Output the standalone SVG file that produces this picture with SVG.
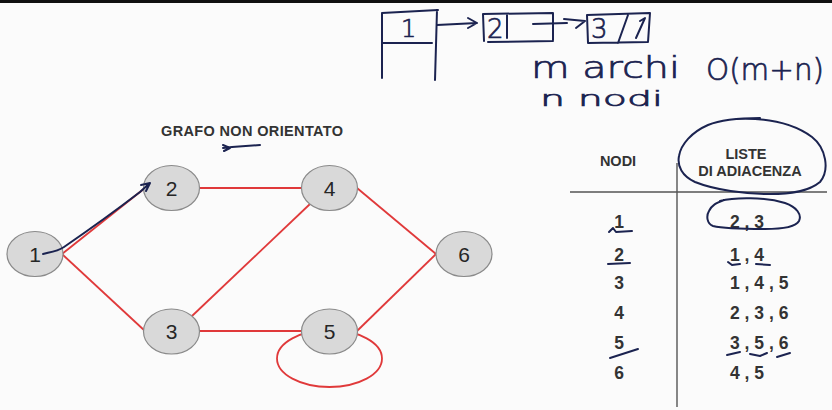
<svg xmlns="http://www.w3.org/2000/svg" width="832" height="410" viewBox="0 0 832 410">
<style>
.bg{fill:#fbfbfb}
.node ellipse{fill:#d9d9d9;stroke:#8a8a8a;stroke-width:1.2}
.node text{font-family:"Liberation Sans",Arial,sans-serif;font-size:21px;fill:#262626;text-anchor:middle}
.edge{stroke:#e0393a;stroke-width:1.8;fill:none}
.hdr{font-family:"Liberation Sans",Arial,sans-serif;font-weight:bold;font-size:14.5px;fill:#333}
.cell{font-family:"Liberation Sans",Arial,sans-serif;font-weight:bold;font-size:17.5px;fill:#333}
.tline{stroke:#555;stroke-width:1.4;fill:none}
.ink{stroke:#1b2350;stroke-width:2;fill:none;stroke-linecap:round;stroke-linejoin:round}
.hw{font-family:"DejaVu Sans",sans-serif;font-weight:200;fill:#1b2350;stroke:#1b2350;stroke-width:0.7}
</style>
<rect class="bg" x="0" y="0" width="832" height="410"/>
<rect x="0" y="0" width="832" height="3" fill="#111"/>

<text class="hdr" x="161" y="136" font-size="15" textLength="182">GRAFO NON ORIENTATO</text>

<g id="connectors">
<line class="edge" x1="62" y1="254" x2="145" y2="188"/>
<line class="edge" x1="62" y1="254" x2="145" y2="331"/>
<line class="edge" x1="199" y1="188" x2="302" y2="188"/>
<line class="edge" x1="192" y1="316" x2="310" y2="204"/>
<line class="edge" x1="199" y1="331" x2="302" y2="331"/>
<line class="edge" x1="357" y1="188" x2="436" y2="254"/>
<line class="edge" x1="357" y1="331" x2="436" y2="254"/>
<ellipse class="edge" cx="329.5" cy="358.5" rx="52.5" ry="28.5"/>
</g>

<g id="node1" class="node"><ellipse cx="35" cy="254" rx="28" ry="22.5"/><text x="35" y="261.5">1</text></g>
<g id="node2" class="node"><ellipse cx="171.5" cy="188" rx="28" ry="22.5"/><text x="171.5" y="195.5">2</text></g>
<g id="node3" class="node"><ellipse cx="171.5" cy="331.5" rx="28" ry="22.5"/><text x="171.5" y="339">3</text></g>
<g id="node4" class="node"><ellipse cx="329.5" cy="188" rx="28" ry="22.5"/><text x="329.5" y="195.5">4</text></g>
<g id="node5" class="node"><ellipse cx="329.5" cy="331.5" rx="28" ry="22.5"/><text x="329.5" y="339">5</text></g>
<g id="node6" class="node"><ellipse cx="464" cy="254" rx="28" ry="22.5"/><text x="464" y="261.5">6</text></g>

<g id="table">
<line class="tline" x1="570" y1="192" x2="827" y2="192"/>
<line class="tline" x1="677" y1="163" x2="677" y2="407"/>
<text class="hdr" x="618" y="166" text-anchor="middle">NODI</text>
<text class="hdr" x="746" y="159" text-anchor="middle">LISTE</text>
<text class="hdr" x="750" y="176" text-anchor="middle">DI ADIACENZA</text>
<g class="cell" text-anchor="middle">
<text x="619" y="228">1</text>
<text x="619" y="261">2</text>
<text x="619" y="289">3</text>
<text x="619" y="319">4</text>
<text x="619" y="349">5</text>
<text x="619" y="379">6</text>
</g>
<g class="cell">
<text x="730" y="228">2 , 3</text>
<text x="730" y="261">1 , 4</text>
<text x="730" y="289">1 , 4 , 5</text>
<text x="730" y="319">2 , 3 , 6</text>
<text x="730" y="349">3 , 5 , 6</text>
<text x="730" y="379">4 , 5</text>
</g>
</g>

<g id="annotations">
<path class="ink" d="M43 254 L47 253 C52 252 58 251 64 247 C80 236 110 215 140 192 L150 183 M141 185 L150 183 L146 191"/>
<path class="ink" d="M223 148 L232 147 L260 145 M223 145 L230 148 L224 151"/>
<path class="ink" d="M737 119 C760 118 790 121 812 137 C826 148 830 170 820 182 C808 192 790 194 770 194 C745 194 715 190 695 182 C682 176 677 166 679 156 C681 144 692 132 708 125 C720 120 735 118 760 118"/>
<path class="ink" d="M720 201 C735 197 765 197 785 203 C797 207 802 215 799 221 C795 228 780 229 765 229 C745 229 725 229 713 226 C707 224 706 216 709 211 C712 205 716 203 724 200"/>
<path class="ink" d="M609 232 L613 228 L616 232 L632 231"/>
<path class="ink" d="M608 264 L630 263"/>
<path class="ink" d="M728 262 L732 265 L740 264"/>
<path class="ink" d="M756 264 L770 265"/>
<path class="ink" d="M610 358 L638 349"/>
<path class="ink" d="M727 355 L740 352"/>
<path class="ink" d="M750 354 L760 356 L767 353"/>
<path class="ink" d="M777 357 L790 353"/>

<path class="ink" d="M382 13 L382 78 M382 13 L438 10 M437 10 L435 80 M383 43 L432 43"/>
<path class="ink" d="M437 25 L477 23 M468 18 L477 23 L468 28"/>
<path class="ink" d="M483 14 L484 41 M483 14 L553 13 L553 40 M488 42 L553 41 M507 15 L507 38"/>
<path class="ink" d="M533 24 L567 23 M564 19 L585 21 L576 28"/>
<path class="ink" d="M587 15 L650 13 L648 42 L588 43 Z M628 15 L618 43 M640 21 L645 18 L636 38"/>
<text class="hw" x="401" y="37" font-size="24">1</text>
<text class="hw" x="487" y="38" font-size="26">2</text>
<text class="hw" x="591" y="38" font-size="26">3</text>
<text class="hw" x="531" y="78" font-size="30" textLength="149" lengthAdjust="spacingAndGlyphs">m archi</text>
<text class="hw" x="706" y="80" font-size="30" textLength="118" lengthAdjust="spacingAndGlyphs">O(m+n)</text>
<text class="hw" x="540" y="106" font-size="22" textLength="123" lengthAdjust="spacingAndGlyphs">n nodi</text>
</g>
</svg>
